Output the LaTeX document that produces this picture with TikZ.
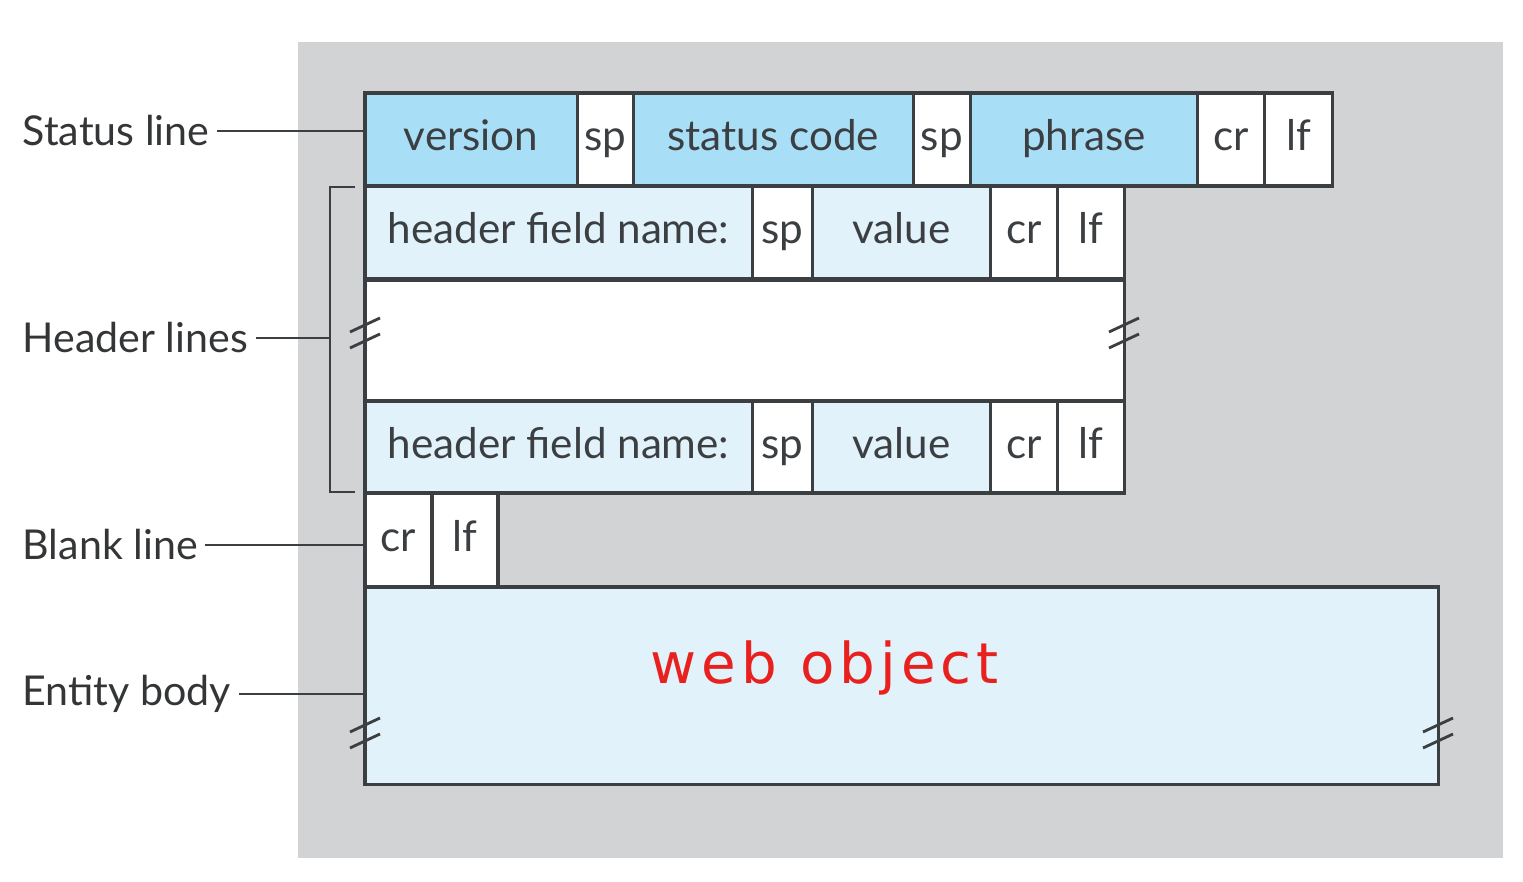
\documentclass[tikz,border=0pt]{standalone}
\usepackage{fontspec}
\setmainfont{Lato}
\newfontfamily\handfont[LetterSpace=9]{DejaVu Sans}
\usetikzlibrary{positioning}
\definecolor{bggray}{HTML}{D1D3D5}
\definecolor{statusblue}{HTML}{A9DEF7}
\definecolor{paleblue}{HTML}{E1F2FB}
\definecolor{linegray}{HTML}{3C3F42}
\definecolor{labelgray}{HTML}{333537}
\definecolor{inkred}{HTML}{E8201E}
\tikzset{
  cell/.style={draw=linegray, line width=0.9pt, inner sep=0pt, outer sep=0pt,
    text=linegray, font=\fontsize{12}{14}\selectfont, text height=0.8em, text depth=0.15em},
  statuscell/.style={cell, fill=statusblue, minimum height=0.93cm},
  statusgap/.style={cell, fill=white, minimum height=0.93cm},
  headcell/.style={cell, fill=paleblue, minimum height=0.93cm},
  headgap/.style={cell, fill=white, minimum height=0.93cm},
  partlabel/.style={anchor=west, inner sep=0pt, text=labelgray,
    font=\fontsize{11.7}{14}\selectfont},
  leader/.style={draw=linegray, line width=0.8pt},
  brk/.style={draw=linegray, line width=0.8pt}
}
\begin{document}
\begin{tikzpicture}[x=0.01cm, y=-0.01cm]
        \useasboundingbox (0,0) rectangle (1523,882);
        %% Grey frame
        \fill[bggray] (298,42) rectangle (1503,858);
        %% Status line
        \node[statuscell, minimum width=2.12cm, anchor=north west] (version) at (365,93) {version};
        \node[statusgap, minimum width=0.56cm, right=0pt of version] (spa) {sp};
        \node[statuscell, minimum width=2.80cm, right=0pt of spa] (code) {status code};
        \node[statusgap, minimum width=0.57cm, right=0pt of code] (spb) {sp};
        \node[statuscell, minimum width=2.27cm, right=0pt of spb] (phrase) {phrase};
        \node[statusgap, minimum width=0.67cm, right=0pt of phrase] (cra) {cr};
        \node[statusgap, minimum width=0.68cm, right=0pt of cra] (lfa) {lf};
        %% First header line
        \node[headcell, minimum width=3.87cm, anchor=north west] (namea) at (365,186) {header field name:};
        \node[headgap, minimum width=0.60cm, right=0pt of namea] (spc) {sp};
        \node[headcell, minimum width=1.78cm, right=0pt of spc] (valuea) {value};
        \node[headgap, minimum width=0.67cm, right=0pt of valuea] (crb) {cr};
        \node[headgap, minimum width=0.67cm, right=0pt of crb] (lfb) {lf};
        %% Omitted header lines
        \node[cell, fill=white, minimum width=7.59cm, minimum height=1.21cm, anchor=north west] (gap) at (365,280) {};
        %% Last header line
        \node[headcell, minimum width=3.87cm, minimum height=0.92cm, anchor=north west] (nameb) at (365,401) {header field name:};
        \node[headgap, minimum width=0.60cm, minimum height=0.92cm, right=0pt of nameb] (spd) {sp};
        \node[headcell, minimum width=1.78cm, minimum height=0.92cm, right=0pt of spd] (valueb) {value};
        \node[headgap, minimum width=0.67cm, minimum height=0.92cm, right=0pt of valueb] (crc) {cr};
        \node[headgap, minimum width=0.67cm, minimum height=0.92cm, right=0pt of crc] (lfc) {lf};
        %% Blank line
        \node[headgap, minimum width=0.67cm, minimum height=0.94cm, anchor=north west] (crd) at (365,493) {cr};
        \node[headgap, minimum width=0.66cm, minimum height=0.94cm, right=0pt of crd] (lfd) {lf};
        %% Entity body
        \node[cell, fill=paleblue, minimum width=10.73cm, minimum height=1.97cm, anchor=north west] (body) at (365,587) {};
        \node[text=inkred, font=\handfont\fontsize{16}{20}\selectfont] (webobj) at (825,668) {web object};
        %% Break marks
        \coordinate (hbl) at (365,333);
        \coordinate (hbr) at (1124,333);
        \coordinate (ebl) at (365,733);
        \coordinate (ebr) at (1438,733);
        \foreach \c in {hbl,hbr,ebl,ebr} {
            \draw[brk] ([shift={(-15,-1)}]\c) -- ++(30,-14);
            \draw[brk] ([shift={(-15,15)}]\c) -- ++(30,-14);
        }
        %% Labels on the left
        \node[partlabel] (statuslbl) at (22,131) {Status line};
        \node[partlabel] (headerlbl) at (22,338) {Header lines};
        \node[partlabel] (blanklbl) at (22,545) {Blank line};
        \node[partlabel] (bodylbl) at (22,694) {Entity body};
        %% Header bracket
        \coordinate (brtop) at (355,187);
        \coordinate (brbot) at (355,492);
        \draw[leader] (brtop) -- ++(-25,0) |- (brbot);
        %% Leaders
        \draw[leader] ([xshift=2pt]statuslbl.east) -- (statuslbl.east -| version.west);
        \draw[leader] ([xshift=2pt]headerlbl.east) -- (headerlbl.east -| {(330,0)});
        \draw[leader] ([xshift=2pt]blanklbl.east) -- (blanklbl.east -| crd.west);
        \draw[leader] ([xshift=2pt]bodylbl.east) -- (bodylbl.east -| body.west);
\end{tikzpicture}
\end{document}
